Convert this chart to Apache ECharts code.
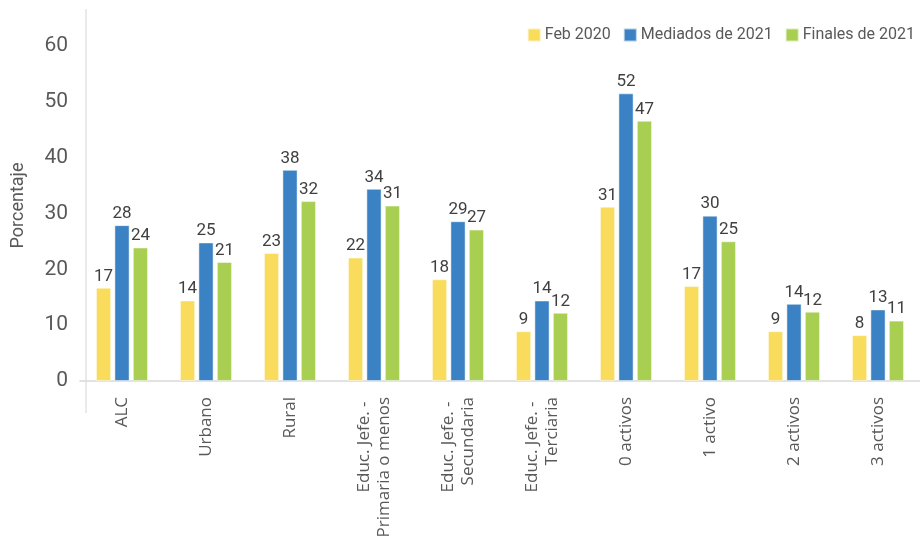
<!DOCTYPE html>
<html>
<head>
<meta charset="utf-8">
<script src="https://cdn.jsdelivr.net/npm/echarts@6/dist/echarts.min.js"></script>
<style>
  html, body { margin: 0; padding: 0; background: #fff; }
  #chart { width: 920px; height: 542px; }
</style>
</head>
<body>
<div id="chart"></div>
<script>
const categories = [
  'ALC',
  'Urbano',
  'Rural',
  'Educ. Jefe. - \nPrimaria o menos',
  'Educ. Jefe. - \nSecundaria',
  'Educ. Jefe. - \nTerciaria',
  '0 activos',
  '1 activo',
  '2 activos',
  '3 activos',
]
const seriesNames = ['Feb 2020', 'Mediados de 2021', 'Finales de 2021']
const feb2020 = [16.7, 14.4, 22.9, 22.1, 18.2, 8.9, 31.2, 17.0, 8.9, 8.2]
const mid2021 = [27.9, 24.8, 37.8, 34.4, 28.6, 14.4, 51.5, 29.6, 13.8, 12.8]
const end2021 = [23.9, 21.3, 32.2, 31.4, 27.1, 12.2, 46.6, 25.0, 12.4, 10.8]
const yTicks = [0, 10, 20, 30, 40, 50, 60]

const colors = ['#F9DC5C', '#3B82C4', '#A9CF52']
const numFont = 'Roboto'

const chart = echarts.init(document.getElementById('chart'))

function barSeries(name, data, color) {
  return {
    name,
    type: 'bar',
    data,
    barWidth: 15,
    barGap: '23%',
    itemStyle: { color, borderColor: 'rgba(255,255,255,0.6)', borderWidth: 0.8 },
    label: {
      show: true,
      position: 'top',
      distance: 3,
      color: '#404040',
      fontFamily: numFont,
      fontSize: 17,
      formatter: (p) => Math.round(p.value),
    },
  }
}

chart.setOption({
  animation: false,
  backgroundColor: '#fff',
  color: colors,
  grid: { left: 80, right: 0, top: 46, bottom: 161, containLabel: false, outerBoundsMode: 'none' },
  legend: {
    right: 0,
    top: 22,
    itemWidth: 13,
    itemHeight: 13,
    itemGap: 12,
    icon: 'rect',
    textStyle: { color: '#595959', fontFamily: numFont, fontSize: 16, padding: [0, 0, 0, -1] },
    data: seriesNames,
  },
  xAxis: {
    type: 'category',
    data: categories,
    axisLine: { lineStyle: { color: '#d9d9d9', width: 1.5 } },
    axisTick: { show: false },
    axisLabel: {
      rotate: 90,
      interval: 0,
      margin: 16,
      color: '#595959',
      fontFamily: 'Open Sans',
      fontSize: 17,
      lineHeight: 20,
    },
  },
  yAxis: {
    type: 'value',
    min: yTicks[0],
    max: yTicks[yTicks.length - 1],
    interval: 10,
    name: 'Porcentaje',
    nameLocation: 'middle',
    nameGap: 53,
    nameTextStyle: { color: '#595959', fontFamily: numFont, fontSize: 18, padding: [0, 0, 0, 16] },
    axisLine: { show: false },
    axisTick: { show: false },
    splitLine: { show: false },
    axisLabel: { color: '#595959', fontFamily: numFont, fontSize: 21, margin: 12 },
  },
  graphic: [
    {
      type: 'line',
      shape: { x1: 86, y1: 9, x2: 86, y2: 413 },
      style: { stroke: '#e3e3e3', lineWidth: 1.5 },
      z: -1,
    },
  ],
  series: [
    barSeries(seriesNames[0], feb2020, colors[0]),
    barSeries(seriesNames[1], mid2021, colors[1]),
    barSeries(seriesNames[2], end2021, colors[2]),
  ],
})
</script>
</body>
</html>
